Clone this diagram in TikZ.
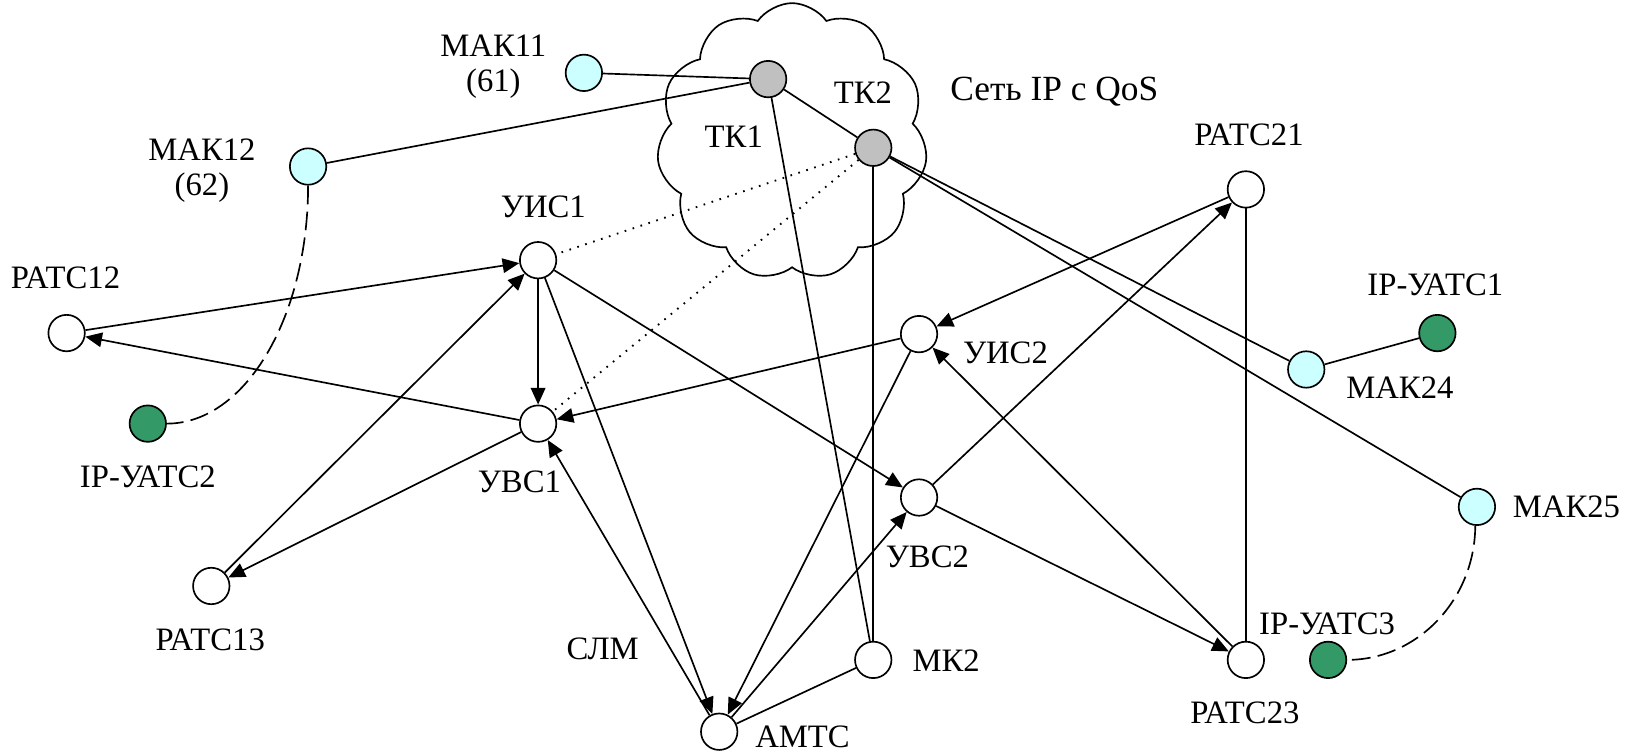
\documentclass[tikz,border=0pt]{standalone}
\usepackage{fontspec}
\setmainfont{Liberation Serif}
\usetikzlibrary{arrows.meta,shapes.symbols}
\definecolor{cyanfill}{RGB}{204,255,255}
\definecolor{grayfill}{RGB}{192,192,192}
\definecolor{greenfill}{RGB}{51,153,102}
\begin{document}
\begin{tikzpicture}[x=0.5pt,y=-0.5pt,
  st/.style={circle,draw,line width=0.8pt,minimum size=17.5pt,inner sep=0pt},
  wn/.style={st,fill=white},
  cy/.style={st,fill=cyanfill},
  gr/.style={st,fill=grayfill},
  gn/.style={st,fill=greenfill},
  lbl/.style={font=\fontsize{15.7}{17}\selectfont,inner sep=0pt,align=center},
  ln/.style={line width=0.8pt},
  ar/.style={ln,-{Triangle[length=8pt,width=7pt]}},
  dt/.style={line width=0.9pt,dash pattern=on 0.8pt off 3.2pt},
  ds/.style={ln,dash pattern=on 9pt off 3.5pt}
]
\useasboundingbox (0,0) rectangle (1568,723);
% cloud
\node[cloud,draw,line width=0.8pt,cloud puffs=11,cloud puff arc=110,aspect=1,
  minimum width=130pt,minimum height=133pt] (cloud) at (761,136) {};
% nodes
\node[cy] (mak11) at (561,70) {};
\node[gr] (tk1) at (738,76) {};
\node[gr] (tk2) at (839,142) {};
\node[cy] (mak12) at (296,160) {};
\node[wn] (uis1) at (517,250) {};
\node[wn] (ratc12) at (64,320) {};
\node[gn] (ip2) at (142,407) {};
\node[wn] (uvs1) at (517,407) {};
\node[wn] (ratc13) at (203,563) {};
\node[wn] (amts) at (691,703) {};
\node[wn] (mk2) at (839,634) {};
\node[wn] (uvs2) at (883,478) {};
\node[wn] (uis2) at (883,321) {};
\node[wn] (ratc21) at (1197,182) {};
\node[gn] (ip1) at (1381,320) {};
\node[cy] (mak24) at (1255,355) {};
\node[cy] (mak25) at (1419,487) {};
\node[wn] (ratc23) at (1197,634) {};
\node[gn] (ip3) at (1276,634) {};
% labels
\node[lbl] (lmak11) at (474,64) {МАК11\\(61)};
\node[lbl] (lmak12) at (194,164) {МАК12\\(62)};
\node[lbl] (ltk1) at (705,131) {ТК1};
\node[lbl] (ltk2) at (829,89) {ТК2};
\node[lbl,font=\fontsize{17}{19}\selectfont] (lnet) at (1013,88) {Сеть IP с QoS};
\node[lbl] (luis1) at (522,199) {УИС1};
\node[lbl] (lratc12) at (63,267) {РАТС12};
\node[lbl] (lip2) at (142,458) {IP-УАТС2};
\node[lbl] (luvs1) at (499,463) {УВС1};
\node[lbl] (lratc13) at (202,615) {РАТС13};
\node[lbl] (lslm) at (579,623) {СЛМ};
\node[lbl] (lamts) at (771,708) {АМТС};
\node[lbl] (lmk2) at (909,635) {МК2};
\node[lbl] (luvs2) at (891,535) {УВС2};
\node[lbl] (luis2) at (966,339) {УИС2};
\node[lbl] (lratc21) at (1200,130) {РАТС21};
\node[lbl] (lip1) at (1379,274) {IP-УАТС1};
\node[lbl] (lmak24) at (1345,372) {МАК24};
\node[lbl] (lmak25) at (1505,487) {МАК25};
\node[lbl] (lip3) at (1275,599) {IP-УАТС3};
\node[lbl] (lratc23) at (1196,685) {РАТС23};
% plain links
\draw[ln] (mak11) -- (tk1);
\draw[ln] (mak12) -- (tk1);
\draw[ln] (tk1) -- (tk2);
\draw[ln] (tk1) -- (mk2);
\draw[ln] (tk2) -- (mk2);
\draw[ln] (tk2) -- (mak24);
\draw[ln] (tk2) -- (mak25);
\draw[ln] (mak24) -- (ip1);
\draw[ln] (ratc21) -- (ratc23);
\draw[ln] (amts) -- (mk2);
% dotted
\draw[dt] (tk2) -- (uis1);
\draw[dt] (tk2) -- (uvs1);
% dashed
\draw[ds] (mak12.south) .. controls (296,304) and (236,407) .. (ip2.east);
\draw[ds] (mak25.-95) .. controls (1417,576) and (1362,634) .. (ip3.east);
% arrows
\draw[ar] (ratc12) -- (uis1);
\draw[ar] (uvs1) -- (ratc12);
\draw[ar] (uis1) -- (uvs1);
\draw[ar] (ratc13) -- (uis1);
\draw[ar] (uvs1) -- (ratc13);
\draw[ar] (uis1) -- (amts);
\draw[ar] (uis1) -- (uvs2);
\draw[ar] (amts) -- (uvs1);
\draw[ar] (uis2) -- (uvs1);
\draw[ar] (uis2) -- (amts);
\draw[ar] (amts) -- (uvs2);
\draw[ar] (ratc21) -- (uis2);
\draw[ar] (uvs2) -- (ratc21);
\draw[ar] (uvs2) -- (ratc23);
\draw[ar] (ratc23) -- (uis2);
\end{tikzpicture}
\end{document}
